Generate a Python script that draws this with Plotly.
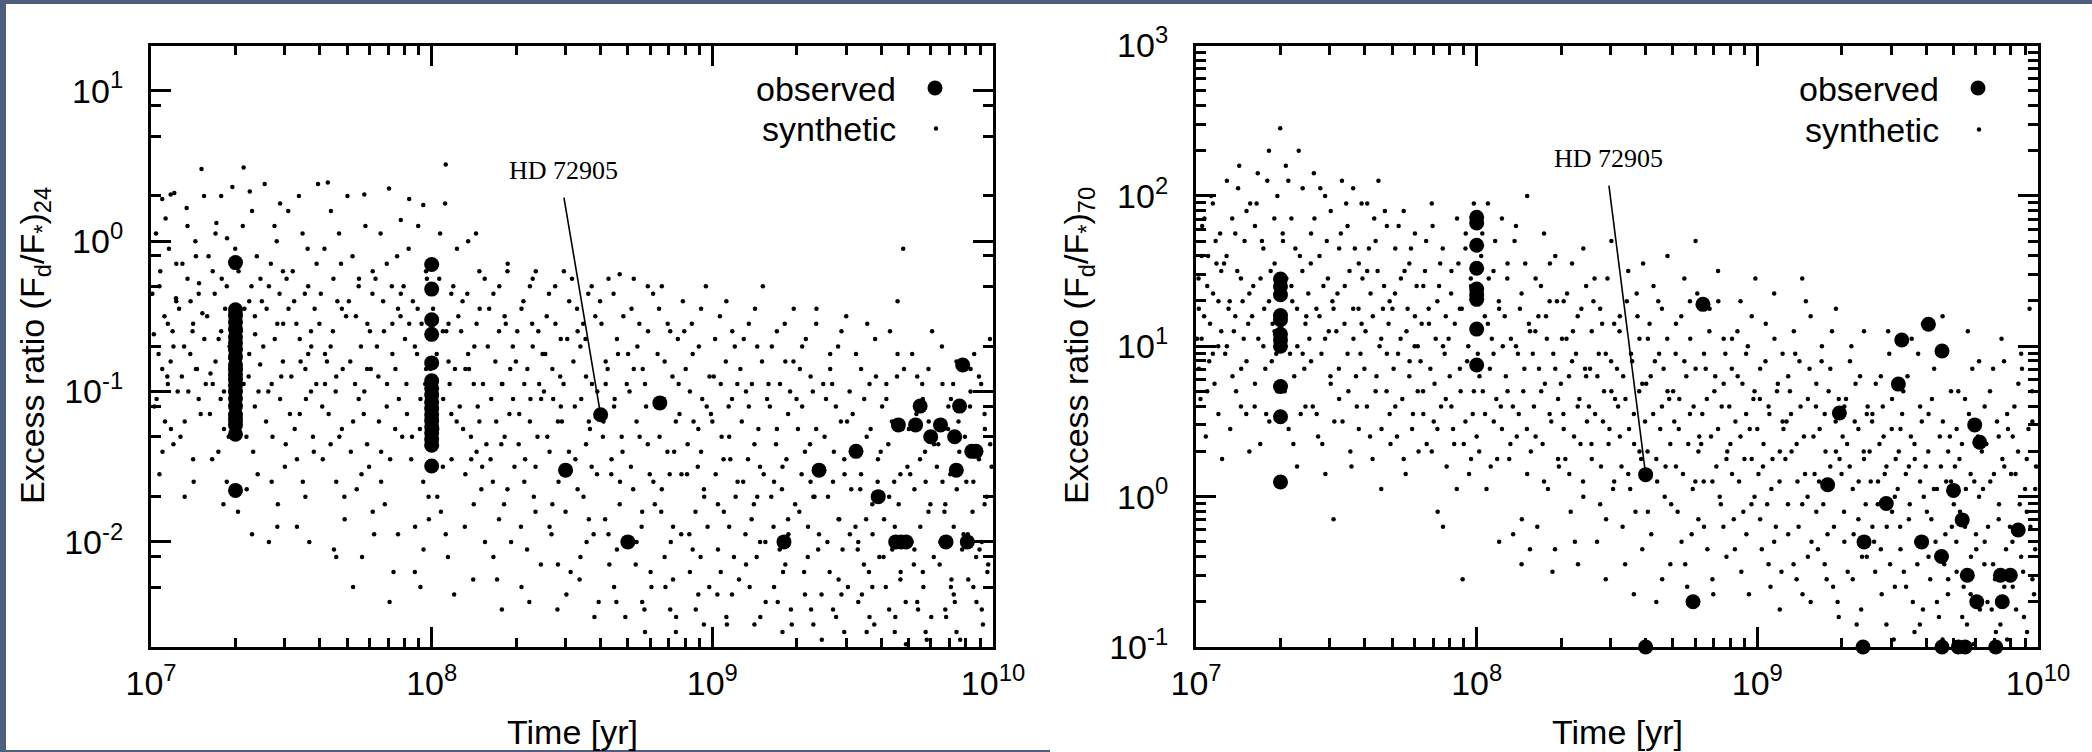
import math
import plotly.graph_objects as go

# ---------------- observed points (24 micron) ----------------
obs24_t = [2e7, 2e7, 2e7, 2e7, 2e7, 2e7, 2e7, 2e7, 2e7, 2e7, 2e7, 2e7, 2e7, 2e7, 2e7, 2e7, 2e7, 2e7, 2e7, 2e7, 2e7, 2e7,
           1e8, 1e8, 1e8, 1e8, 1e8, 1e8, 1e8, 1e8, 1e8, 1e8, 1e8, 1e8, 1e8, 1e8, 1e8, 1e8, 1e8,
           3e8, 4e8, 5e8, 6.5e8, 1.8e9, 2.4e9, 3.25e9, 3.9e9, 4.5e9, 4.7e9, 4.9e9, 4.6e9, 5.3e9, 5.5e9,
           6.0e9, 6.5e9, 6.8e9, 7.3e9, 7.4e9, 7.6e9, 7.8e9, 8.1e9, 8.4e9, 8.7e9]
obs24_r = [0.72, 0.35, 0.32, 0.29, 0.26, 0.23, 0.21, 0.19, 0.17, 0.15, 0.14, 0.13, 0.12, 0.11, 0.10, 0.09, 0.08, 0.07, 0.065, 0.06, 0.052, 0.022,
           0.70, 0.48, 0.30, 0.24, 0.155, 0.118, 0.105, 0.095, 0.085, 0.077, 0.07, 0.064, 0.058, 0.053, 0.048, 0.044, 0.032,
           0.03, 0.07, 0.01, 0.084, 0.01, 0.03, 0.04, 0.02, 0.01, 0.01, 0.01, 0.06, 0.06, 0.08,
           0.05, 0.06, 0.01, 0.05, 0.03, 0.08, 0.15, 0.01, 0.04, 0.04]

# ---------------- observed points (70 micron) ----------------
obs70_t = [2e7, 2e7, 2e7, 2e7, 2e7, 2e7, 2e7, 2e7, 2e7, 2e7, 2e7,
           1e8, 1e8, 1e8, 1e8, 1e8, 1e8, 1e8, 1e8, 1e8,
           4e8, 4e8, 5.9e8, 6.4e8, 1.78e9, 1.96e9, 2.38e9, 2.4e9, 2.88e9, 3.18e9, 3.27e9, 3.85e9, 4.07e9,
           4.53e9, 4.55e9, 4.55e9, 5.0e9, 5.2e9, 5.5e9, 5.37e9, 5.6e9, 5.95e9, 6.2e9, 6.05e9, 7.07e9,
           7.46e9, 7.35e9, 7.97e9, 8.5e9]
obs70_r = [28, 25, 22, 16, 15, 12, 11, 10, 5.4, 3.4, 1.25,
           72, 66, 47, 33, 24, 22, 20.5, 13, 7.5,
           1.4, 0.1, 0.2, 19, 1.2, 3.6, 0.1, 0.5, 0.9, 5.6, 11, 0.5, 14,
           0.4, 9.3, 0.1, 1.1, 0.1, 0.1, 0.7, 0.3, 3.0, 2.3, 0.2, 0.1,
           0.2, 0.3, 0.3, 0.6]

# ---------------- synthetic population (24 micron), log10 values ----------------
syn24_logt = [
    7.01, 7.02, 7.03, 7.04, 7.04, 7.05, 7.06, 7.06, 7.07, 7.08, 7.08, 7.09, 7.09, 7.03, 7.07,
    7.10, 7.11, 7.12, 7.13, 7.13, 7.14, 7.15, 7.15, 7.16, 7.17, 7.17, 7.18, 7.19, 7.12, 7.16,
    7.20, 7.21, 7.22, 7.23, 7.23, 7.24, 7.25, 7.25, 7.26, 7.27, 7.27, 7.28, 7.29, 7.22, 7.26,
    7.30, 7.31, 7.32, 7.33, 7.33, 7.34, 7.35, 7.35, 7.36, 7.37, 7.37, 7.38, 7.39, 7.32, 7.36,
    7.40, 7.41, 7.42, 7.43, 7.43, 7.44, 7.45, 7.45, 7.46, 7.47, 7.47, 7.48, 7.49, 7.42, 7.46,
    7.50, 7.51, 7.52, 7.53, 7.53, 7.54, 7.55, 7.55, 7.56, 7.57, 7.57, 7.58, 7.59, 7.52, 7.56,
    7.60, 7.61, 7.62, 7.63, 7.64, 7.64, 7.65, 7.66, 7.66, 7.67, 7.68, 7.68, 7.69, 7.62, 7.66,
    7.70, 7.71, 7.72, 7.73, 7.74, 7.74, 7.75, 7.76, 7.77, 7.77, 7.78, 7.79, 7.79, 7.72, 7.76,
    7.80, 7.81, 7.82, 7.83, 7.84, 7.84, 7.85, 7.86, 7.87, 7.88, 7.88, 7.89, 7.89, 7.82, 7.86,
    7.90, 7.91, 7.92, 7.93, 7.94, 7.94, 7.95, 7.96, 7.97, 7.97, 7.98, 7.98, 7.99, 7.92, 7.96,
    8.00, 8.01, 8.02, 8.03, 8.04, 8.04, 8.05, 8.05, 8.06, 8.07, 8.07, 8.08, 8.09, 8.02, 8.06,
    8.10, 8.11, 8.12, 8.13, 8.13, 8.14, 8.15, 8.15, 8.16, 8.17, 8.17, 8.18, 8.19, 8.12, 8.16,
    8.20, 8.21, 8.22, 8.23, 8.24, 8.24, 8.25, 8.25, 8.26, 8.27, 8.27, 8.28, 8.29, 8.22, 8.26,
    8.30, 8.31, 8.32, 8.33, 8.33, 8.34, 8.35, 8.35, 8.36, 8.37, 8.37, 8.38, 8.39, 8.32, 8.36,
    8.40, 8.41, 8.42, 8.43, 8.43, 8.44, 8.45, 8.45, 8.46, 8.47, 8.47, 8.48, 8.49, 8.42, 8.46,
    8.50, 8.51, 8.52, 8.53, 8.53, 8.54, 8.55, 8.55, 8.56, 8.57, 8.57, 8.58, 8.59, 8.52, 8.56,
    8.60, 8.61, 8.62, 8.63, 8.63, 8.64, 8.65, 8.65, 8.66, 8.67, 8.67, 8.68, 8.69, 8.62, 8.66,
    8.70, 8.71, 8.72, 8.73, 8.73, 8.74, 8.75, 8.75, 8.76, 8.77, 8.77, 8.78, 8.79, 8.72, 8.76,
    8.80, 8.81, 8.82, 8.83, 8.83, 8.84, 8.85, 8.85, 8.86, 8.87, 8.87, 8.88, 8.89, 8.82, 8.86,
    8.90, 8.91, 8.92, 8.93, 8.93, 8.94, 8.95, 8.95, 8.96, 8.97, 8.97, 8.98, 8.99, 8.92, 8.96,
    9.00, 9.01, 9.02, 9.03, 9.03, 9.04, 9.05, 9.05, 9.06, 9.07, 9.07, 9.08, 9.09, 9.02, 9.06,
    9.10, 9.11, 9.12, 9.13, 9.13, 9.14, 9.15, 9.15, 9.16, 9.17, 9.17, 9.18, 9.19, 9.12, 9.16,
    9.20, 9.21, 9.22, 9.23, 9.23, 9.24, 9.25, 9.25, 9.26, 9.27, 9.27, 9.28, 9.29, 9.22, 9.26,
    9.30, 9.31, 9.32, 9.33, 9.33, 9.34, 9.35, 9.35, 9.36, 9.37, 9.37, 9.38, 9.39, 9.32, 9.36,
    9.40, 9.41, 9.42, 9.43, 9.43, 9.44, 9.45, 9.45, 9.46, 9.47, 9.47, 9.48, 9.49, 9.42, 9.46,
    9.50, 9.51, 9.52, 9.53, 9.53, 9.54, 9.55, 9.55, 9.56, 9.57, 9.57, 9.58, 9.59, 9.52, 9.56,
    9.60, 9.61, 9.62, 9.63, 9.63, 9.64, 9.65, 9.65, 9.66, 9.67, 9.67, 9.68, 9.69, 9.62, 9.66,
    9.70, 9.71, 9.72, 9.73, 9.73, 9.74, 9.75, 9.75, 9.76, 9.77, 9.77, 9.78, 9.79, 9.72, 9.76,
    9.80, 9.81, 9.82, 9.83, 9.83, 9.84, 9.85, 9.85, 9.86, 9.87, 9.87, 9.88, 9.89, 9.82, 9.86,
    9.90, 9.91, 9.92, 9.93, 9.93, 9.94, 9.95, 9.95, 9.96, 9.97, 9.97, 9.98, 9.99, 9.92, 9.96,
    # second pass over the cloud
    7.005, 7.012, 7.018, 7.027, 7.033, 7.041, 7.048, 7.052, 7.058, 7.064, 7.071, 7.077, 7.083, 7.089, 7.095,
    7.105, 7.112, 7.118, 7.127, 7.133, 7.141, 7.148, 7.152, 7.158, 7.164, 7.171, 7.177, 7.183, 7.189, 7.195,
    7.205, 7.212, 7.218, 7.227, 7.233, 7.241, 7.248, 7.252, 7.258, 7.264, 7.271, 7.277, 7.283, 7.289, 7.295,
    7.305, 7.312, 7.318, 7.327, 7.333, 7.341, 7.348, 7.352, 7.358, 7.364, 7.371, 7.377, 7.383, 7.389, 7.395,
    7.405, 7.412, 7.418, 7.427, 7.433, 7.441, 7.448, 7.452, 7.458, 7.464, 7.471, 7.477, 7.483, 7.489, 7.495,
    7.505, 7.512, 7.518, 7.527, 7.533, 7.541, 7.548, 7.552, 7.558, 7.564, 7.571, 7.577, 7.583, 7.589, 7.595,
    7.605, 7.612, 7.618, 7.627, 7.633, 7.641, 7.648, 7.652, 7.658, 7.664, 7.671, 7.677, 7.683, 7.689, 7.695,
    7.705, 7.712, 7.718, 7.727, 7.733, 7.741, 7.748, 7.752, 7.758, 7.764, 7.771, 7.777, 7.783, 7.789, 7.795,
    7.805, 7.812, 7.818, 7.827, 7.833, 7.841, 7.848, 7.852, 7.858, 7.864, 7.871, 7.877, 7.883, 7.889, 7.895,
    7.905, 7.912, 7.918, 7.927, 7.933, 7.941, 7.948, 7.952, 7.958, 7.964, 7.971, 7.977, 7.983, 7.989, 7.995,
    8.005, 8.012, 8.018, 8.027, 8.033, 8.041, 8.048, 8.052, 8.058, 8.064, 8.071, 8.077, 8.083, 8.089, 8.095,
    8.105, 8.112, 8.118, 8.127, 8.133, 8.141, 8.148, 8.152, 8.158, 8.164, 8.171, 8.177, 8.183, 8.189, 8.195,
    8.205, 8.212, 8.218, 8.227, 8.233, 8.241, 8.248, 8.252, 8.258, 8.264, 8.271, 8.277, 8.283, 8.289, 8.295,
    8.305, 8.312, 8.318, 8.327, 8.333, 8.341, 8.348, 8.352, 8.358, 8.364, 8.371, 8.377, 8.383, 8.389, 8.395,
    8.405, 8.412, 8.418, 8.427, 8.433, 8.441, 8.448, 8.452, 8.458, 8.464, 8.471, 8.477, 8.483, 8.489, 8.495,
    8.505, 8.512, 8.518, 8.527, 8.533, 8.541, 8.548, 8.552, 8.558, 8.564, 8.571, 8.577, 8.583, 8.589, 8.595,
    8.605, 8.612, 8.618, 8.627, 8.633, 8.641, 8.648, 8.652, 8.658, 8.664, 8.671, 8.677, 8.683, 8.689, 8.695,
    8.705, 8.712, 8.718, 8.727, 8.733, 8.741, 8.748, 8.752, 8.758, 8.764, 8.771, 8.777, 8.783, 8.789, 8.795,
    8.805, 8.812, 8.818, 8.827, 8.833, 8.841, 8.848, 8.852, 8.858, 8.864, 8.871, 8.877, 8.883, 8.889, 8.895,
    8.905, 8.912, 8.918, 8.927, 8.933, 8.941, 8.948, 8.952, 8.958, 8.964, 8.971, 8.977, 8.983, 8.989, 8.995,
    9.005, 9.012, 9.018, 9.027, 9.033, 9.041, 9.048, 9.052, 9.058, 9.064, 9.071, 9.077, 9.083, 9.089, 9.095,
    9.105, 9.112, 9.118, 9.127, 9.133, 9.141, 9.148, 9.152, 9.158, 9.164, 9.171, 9.177, 9.183, 9.189, 9.195,
    9.205, 9.212, 9.218, 9.227, 9.233, 9.241, 9.248, 9.252, 9.258, 9.264, 9.271, 9.277, 9.283, 9.289, 9.295,
    9.305, 9.312, 9.318, 9.327, 9.333, 9.341, 9.348, 9.352, 9.358, 9.364, 9.371, 9.377, 9.383, 9.389, 9.395,
    9.405, 9.412, 9.418, 9.427, 9.433, 9.441, 9.448, 9.452, 9.458, 9.464, 9.471, 9.477, 9.483, 9.489, 9.495,
    9.505, 9.512, 9.518, 9.527, 9.533, 9.541, 9.548, 9.552, 9.558, 9.564, 9.571, 9.577, 9.583, 9.589, 9.595,
    9.605, 9.612, 9.618, 9.627, 9.633, 9.641, 9.648, 9.652, 9.658, 9.664, 9.671, 9.677, 9.683, 9.689, 9.695,
    9.705, 9.712, 9.718, 9.727, 9.733, 9.741, 9.748, 9.752, 9.758, 9.764, 9.771, 9.777, 9.783, 9.789, 9.795,
    9.805, 9.812, 9.818, 9.827, 9.833, 9.841, 9.848, 9.852, 9.858, 9.864, 9.871, 9.877, 9.883, 9.889, 9.895,
    9.905, 9.912, 9.918, 9.927, 9.933, 9.941, 9.948, 9.952, 9.958, 9.964, 9.971, 9.977, 9.983, 9.989, 9.995,
]
syn24_logr = [
    -0.62, -1.05, -0.30, -0.85, 0.28, -1.20, -0.55, -0.95, 0.31, -0.70, -1.35, -0.40, -0.15, -1.55, -0.80,
    -0.45, -0.90, -1.20, -0.25, 0.10, -0.75, -1.45, -0.55, -0.10, -1.05, -0.35, 0.48, -0.65, -1.70, -0.85,
    -0.50, -1.15, -0.20, 0.05, -0.80, -1.40, -0.60, 0.30, -1.00, -0.30, -1.60, -0.70, 0.36, -0.95, -1.25,
    -0.05, -1.80, -0.60, 0.49, -0.95, -1.30, -0.40, -0.75, 0.20, -1.10, -0.50, -1.55, -0.25, -0.85, -1.95,
    -0.70, -1.20, -0.30, -1.60, -0.95, 0.10, -0.55, -1.90, -1.05, -0.20, -0.80, -1.35, -0.45, -2.00, 0.25,
    -0.90, -0.40, -1.45, -0.65, -1.15, 0.05, -0.85, -1.70, -0.30, -1.00, -0.60, -1.40, -0.15, -1.90, -0.75,
    -0.55, -1.10, -0.95, 0.39, -1.35, -0.70, -0.25, -1.60, -0.90, 0.05, -0.45, -1.25, -1.85, -0.75, -2.10,
    0.30, -0.80, -1.20, -0.50, -1.05, -0.30, -1.55, 0.31, -0.85, -1.35, -0.60, -1.80, -0.20, -2.30, -1.00,
    -0.25, -0.90, -1.40, -0.60, -0.15, -1.10, -2.40, -0.75, -1.25, -0.45, -1.95, 0.14, -0.35, -1.60, -0.55,
    -0.30, -0.95, 0.28, -1.30, -0.70, -2.20, -0.45, -1.05, -1.60, 0.24, -0.20, -0.85, -1.85, -0.55, -2.30,
    -0.15, -0.90, -1.25, 0.05, -0.60, -1.50, 0.51, -1.95, -0.80, -1.15, -0.35, -2.35, -0.05, -1.70, -0.55,
    -1.10, -0.40, -1.55, -0.75, 0.00, -1.30, -0.95, -1.75, -0.55, -1.20, -0.20, -1.50, -2.00, -0.85, -1.40,
    -0.70, -1.45, -0.35, -1.20, -1.85, -0.60, -0.95, -2.45, -1.30, -0.20, -1.65, -0.85, -1.05, -2.10, -0.50,
    -0.80, -1.35, -0.45, -1.60, -0.95, -2.05, -0.30, -1.20, -0.70, -1.50, -1.80, -0.60, -1.05, -2.30, -0.25,
    -1.00, -0.50, -1.40, -0.85, -1.75, -0.30, -1.20, -2.15, -0.65, -1.55, -0.95, -2.35, -0.40, -1.90, -1.10,
    -0.25, -1.10, -1.65, -0.70, -2.10, -0.55, -1.35, -0.90, -1.85, -0.30, -1.50, -2.50, -1.00, -0.60, -1.20,
    -0.40, -1.30, -0.80, -1.95, -0.25, -1.55, -1.10, -2.30, -0.65, -1.75, -0.22, -1.40, -2.50, -0.95, -2.05,
    -0.75, -1.50, -0.25, -2.00, -1.20, -0.55, -1.80, -2.40, -0.95, -1.35, -0.30, -2.20, -1.60, -0.85, -2.60,
    -1.10, -0.45, -1.65, -2.10, -0.80, -1.40, -2.45, -0.60, -1.90, -1.20, -2.60, -0.95, -1.55, -0.30, -2.25,
    -0.60, -1.55, -1.00, -2.05, -0.75, -1.80, -1.25, -2.35, -0.45, -1.65, -2.55, -1.10, -0.90, -2.20, -1.40,
    -1.20, -0.65, -1.75, -2.20, -0.95, -1.45, -2.50, -0.40, -1.90, -1.05, -2.35, -0.70, -1.60, -2.05, -1.30,
    -0.85, -1.60, -2.15, -1.10, -0.55, -1.85, -2.55, -1.35, -0.70, -2.00, -1.50, -0.30, -2.40, -1.00, -1.70,
    -0.95, -1.70, -2.30, -1.25, -0.60, -2.05, -1.50, -2.60, -0.80, -1.85, -1.15, -2.45, -0.45, -1.60, -2.15,
    -1.05, -1.80, -0.70, -2.35, -1.40, -2.10, -0.90, -1.60, -2.55, -1.25, -0.55, -1.95, -2.65, -1.10, -1.70,
    -1.30, -2.00, -0.85, -1.60, -2.45, -1.10, -1.85, -2.25, -0.60, -1.45, -2.60, -1.20, -1.95, -0.75, -2.35,
    -1.15, -1.90, -2.40, -0.85, -1.55, -2.15, -1.30, -2.60, -0.95, -1.75, -2.30, -0.65, -1.45, -2.00, -2.50,
    -1.40, -2.10, -0.95, -1.70, -2.45, -1.20, -2.60, -1.90, -0.75, -2.25, -1.55, -0.05, -2.68, -1.05, -0.40,
    -1.25, -2.00, -1.65, -2.40, -0.90, -1.45, -2.20, -1.05, -2.60, -1.80, -0.85, -2.50, -1.35, -2.05, -1.60,
    -1.50, -2.15, -0.95, -1.75, -2.45, -1.25, -2.30, -1.05, -1.90, -2.60, -0.80, -1.40, -2.05, -1.60, -2.35,
    -1.30, -1.95, -1.00, -2.30, -1.60, -2.10, -0.90, -1.45, -2.45, -1.15, -1.75, -2.20, -1.35, -0.85, -2.00,
    # second pass over the cloud
    -0.35, -1.10, 0.05, -0.75, -0.20, -1.40, -0.50, 0.15, -0.90, -0.05, -1.25, -0.60, 0.32, -0.38, -1.00,
    -1.30, -0.15, -0.70, 0.22, -1.00, -0.40, -0.60, -1.60, 0.00, -0.85, -0.28, -1.15, -0.48, 0.30, -0.95,
    -0.10, -0.88, -1.45, -0.35, 0.12, -0.65, -1.05, -0.25, -1.75, -0.45, 0.02, -1.30, -0.78, -0.55, -0.15,
    -0.70, -0.20, -1.20, 0.10, -0.45, -1.65, -0.90, 0.33, -0.30, -1.40, -0.62, -0.10, -1.00, -0.82, -0.40,
    0.38, -0.45, -1.00, -0.15, -1.30, -0.65, 0.00, -1.75, -0.35, -0.90, -0.55, -1.50, -0.25, 0.20, -1.15,
    -0.20, -1.25, -0.55, 0.30, -0.80, -1.60, -0.35, -1.05, -0.05, -2.00, -0.70, -1.30, -0.45, -0.95, 0.38,
    -0.35, -1.45, -0.05, -0.80, -1.15, 0.20, -0.60, -2.05, -1.00, -0.40, -1.30, -0.15, -0.85, -1.70, -0.50,
    -0.40, -1.40, -0.10, -0.95, -1.65, -0.25, -0.70, -2.10, -1.15, 0.10, -0.55, -1.50, -0.85, -0.35, -1.95,
    -0.70, -1.20, 0.05, -0.40, -1.75, -0.95, 0.35, -1.45, -0.30, -2.20, -0.85, -0.10, -1.05, -0.50, -1.30,
    -0.65, -1.15, -0.05, -1.45, -0.40, -1.90, -0.75, 0.10, -1.25, -0.55, -2.05, -0.95, -0.25, -1.70, -0.85,
    -0.45, -1.35, -0.75, -0.25, -1.80, -1.05, 0.25, -0.60, -2.10, -0.95, -1.45, -0.30, -0.85, -1.20, -0.50,
    -0.60, -1.25, -1.90, -0.35, -0.85, -1.45, -2.25, -0.70, 0.05, -1.10, -0.45, -1.65, -0.95, -0.25, -1.35,
    -0.45, -1.05, -1.60, -0.80, -2.25, -0.30, -1.35, -0.95, -1.75, -0.55, -0.15, -1.15, -2.00, -0.70, -1.50,
    -0.60, -1.15, -1.90, -0.40, -1.45, -0.85, -2.40, -1.05, -0.55, -1.70, -0.20, -1.30, -0.95, -2.15, -0.75,
    -0.75, -1.30, -0.35, -1.95, -1.05, -0.55, -2.45, -1.60, -0.90, -1.20, -0.20, -1.80, -0.65, -1.40, -2.20,
    -0.80, -1.45, -0.45, -2.25, -1.05, -1.70, -0.65, -2.00, -0.35, -1.25, -0.95, -1.95, -0.50, -1.55, -2.40,
    -0.55, -1.20, -1.85, -0.85, -2.15, -1.45, -0.35, -1.05, -2.40, -0.75, -1.60, -1.30, -0.50, -2.00, -0.95,
    -1.00, -0.45, -1.65, -2.15, -0.70, -1.30, -1.90, -0.85, -2.45, -1.10, -0.60, -1.55, -2.30, -0.35, -1.75,
    -0.75, -1.30, -1.80, -1.05, -2.30, -0.55, -1.55, -2.00, -0.90, -1.40, -2.50, -0.65, -1.15, -1.95, -0.40,
    -0.85, -1.35, -1.95, -0.55, -1.20, -2.45, -1.50, -0.70, -2.10, -1.05, -1.70, -0.30, -1.90, -2.30, -1.15,
    -0.90, -1.55, -2.35, -0.50, -1.30, -1.80, -0.80, -2.55, -1.10, -1.45, -0.60, -2.10, -1.70, -0.95, -2.25,
    -1.20, -0.65, -1.95, -1.45, -2.30, -0.95, -1.75, -0.45, -2.10, -1.25, -2.50, -0.80, -1.55, -2.00, -1.05,
    -1.10, -0.70, -1.90, -1.35, -2.40, -0.95, -1.65, -2.20, -0.55, -1.45, -1.95, -1.00, -2.55, -0.80, -1.75,
    -1.25, -0.85, -1.55, -2.20, -0.65, -1.90, -1.35, -2.45, -1.00, -1.70, -0.45, -2.05, -1.50, -2.35, -0.95,
    -1.05, -1.70, -2.20, -0.95, -1.40, -2.50, -0.70, -1.85, -1.20, -2.05, -1.55, -0.50, -2.30, -1.00, -1.65,
    -1.40, -0.75, -2.05, -1.65, -2.35, -1.05, -1.85, -0.55, -2.20, -1.25, -1.95, -2.55, -0.90, -1.60, -2.10,
    -1.10, -1.85, -2.30, -1.35, -0.60, -2.05, -1.60, -2.50, -0.90, -1.75, -2.20, -1.25, -0.85, -2.40, -1.50,
    -1.55, -0.75, -2.15, -1.15, -2.45, -1.90, -0.95, -2.30, -1.40, -2.65, -1.20, -1.75, -0.60, -2.10, -1.30,
    -1.35, -2.00, -0.70, -1.80, -2.50, -1.10, -1.55, -2.25, -0.95, -2.40, -1.65, -1.20, -2.65, -0.85, -1.95,
    -1.60, -2.25, -1.10, -1.80, -0.75, -2.40, -1.40, -2.05, -0.95, -2.55, -1.25, -1.70, -2.15, -0.65, -1.50,
]

# ---------------- synthetic population (70 micron), log10 values ----------------
syn70_logt = [
    7.01, 7.01, 7.02, 7.02, 7.03, 7.04, 7.04, 7.05, 7.06, 7.06, 7.07, 7.08, 7.08, 7.09, 7.09,
    7.10, 7.11, 7.11, 7.12, 7.13, 7.14, 7.14, 7.15, 7.16, 7.16, 7.17, 7.18, 7.18, 7.19, 7.19,
    7.20, 7.21, 7.21, 7.22, 7.23, 7.24, 7.24, 7.25, 7.26, 7.26, 7.27, 7.28, 7.28, 7.29, 7.29,
    7.30, 7.31, 7.31, 7.32, 7.33, 7.34, 7.34, 7.35, 7.36, 7.36, 7.37, 7.38, 7.38, 7.39, 7.39,
    7.40, 7.41, 7.41, 7.42, 7.43, 7.44, 7.44, 7.45, 7.46, 7.46, 7.47, 7.48, 7.48, 7.49, 7.49,
    7.50, 7.51, 7.51, 7.52, 7.53, 7.54, 7.54, 7.55, 7.56, 7.56, 7.57, 7.58, 7.58, 7.59, 7.59,
    7.60, 7.61, 7.61, 7.62, 7.63, 7.64, 7.64, 7.65, 7.66, 7.66, 7.67, 7.68, 7.68, 7.69, 7.69,
    7.70, 7.71, 7.71, 7.72, 7.73, 7.74, 7.74, 7.75, 7.76, 7.76, 7.77, 7.78, 7.78, 7.79, 7.79,
    7.80, 7.81, 7.81, 7.82, 7.83, 7.84, 7.84, 7.85, 7.86, 7.86, 7.87, 7.88, 7.88, 7.89, 7.89,
    7.90, 7.91, 7.91, 7.92, 7.93, 7.94, 7.94, 7.95, 7.96, 7.96, 7.97, 7.98, 7.98, 7.99, 7.99,
    8.00, 8.01, 8.01, 8.02, 8.03, 8.04, 8.04, 8.05, 8.06, 8.06, 8.07, 8.08, 8.08, 8.09, 8.09,
    8.10, 8.11, 8.11, 8.12, 8.13, 8.14, 8.14, 8.15, 8.16, 8.16, 8.17, 8.18, 8.18, 8.19, 8.19,
    8.20, 8.21, 8.21, 8.22, 8.23, 8.24, 8.24, 8.25, 8.26, 8.26, 8.27, 8.28, 8.28, 8.29, 8.29,
    8.30, 8.31, 8.31, 8.32, 8.33, 8.34, 8.34, 8.35, 8.36, 8.36, 8.37, 8.38, 8.38, 8.39, 8.39,
    8.40, 8.41, 8.41, 8.42, 8.43, 8.44, 8.44, 8.45, 8.46, 8.46, 8.47, 8.48, 8.48, 8.49, 8.49,
    8.50, 8.51, 8.51, 8.52, 8.53, 8.54, 8.54, 8.55, 8.56, 8.56, 8.57, 8.58, 8.58, 8.59, 8.59,
    8.60, 8.61, 8.61, 8.62, 8.63, 8.64, 8.64, 8.65, 8.66, 8.66, 8.67, 8.68, 8.68, 8.69, 8.69,
    8.70, 8.71, 8.71, 8.72, 8.73, 8.74, 8.74, 8.75, 8.76, 8.76, 8.77, 8.78, 8.78, 8.79, 8.79,
    8.80, 8.81, 8.81, 8.82, 8.83, 8.84, 8.84, 8.85, 8.86, 8.86, 8.87, 8.88, 8.88, 8.89, 8.89,
    8.90, 8.91, 8.91, 8.92, 8.93, 8.94, 8.94, 8.95, 8.96, 8.96, 8.97, 8.98, 8.98, 8.99, 8.99,
    9.00, 9.01, 9.01, 9.02, 9.03, 9.04, 9.04, 9.05, 9.06, 9.06, 9.07, 9.08, 9.08, 9.09, 9.09,
    9.10, 9.11, 9.11, 9.12, 9.13, 9.14, 9.14, 9.15, 9.16, 9.16, 9.17, 9.18, 9.18, 9.19, 9.19,
    9.20, 9.21, 9.21, 9.22, 9.23, 9.24, 9.24, 9.25, 9.26, 9.26, 9.27, 9.28, 9.28, 9.29, 9.29,
    9.30, 9.31, 9.31, 9.32, 9.33, 9.34, 9.34, 9.35, 9.36, 9.36, 9.37, 9.38, 9.38, 9.39, 9.39,
    9.40, 9.41, 9.41, 9.42, 9.43, 9.44, 9.44, 9.45, 9.46, 9.46, 9.47, 9.48, 9.48, 9.49, 9.49,
    9.50, 9.51, 9.51, 9.52, 9.53, 9.54, 9.54, 9.55, 9.56, 9.56, 9.57, 9.58, 9.58, 9.59, 9.59,
    9.60, 9.61, 9.61, 9.62, 9.63, 9.64, 9.64, 9.65, 9.66, 9.66, 9.67, 9.68, 9.68, 9.69, 9.69,
    9.70, 9.71, 9.71, 9.72, 9.73, 9.74, 9.74, 9.75, 9.76, 9.76, 9.77, 9.78, 9.78, 9.79, 9.79,
    9.80, 9.81, 9.81, 9.82, 9.83, 9.84, 9.84, 9.85, 9.86, 9.86, 9.87, 9.88, 9.88, 9.89, 9.89,
    9.90, 9.91, 9.91, 9.92, 9.93, 9.94, 9.94, 9.95, 9.96, 9.96, 9.97, 9.98, 9.98, 9.99, 9.99,
    # second pass over the cloud
    7.004, 7.009, 7.016, 7.022, 7.029, 7.035, 7.043, 7.047, 7.054, 7.061, 7.066, 7.073, 7.079, 7.086, 7.093,
    7.104, 7.109, 7.116, 7.122, 7.129, 7.135, 7.143, 7.147, 7.154, 7.161, 7.166, 7.173, 7.179, 7.186, 7.193,
    7.204, 7.209, 7.216, 7.222, 7.229, 7.235, 7.243, 7.247, 7.254, 7.261, 7.266, 7.273, 7.279, 7.286, 7.293,
    7.304, 7.309, 7.316, 7.322, 7.329, 7.335, 7.343, 7.347, 7.354, 7.361, 7.366, 7.373, 7.379, 7.386, 7.393,
    7.404, 7.409, 7.416, 7.422, 7.429, 7.435, 7.443, 7.447, 7.454, 7.461, 7.466, 7.473, 7.479, 7.486, 7.493,
    7.504, 7.509, 7.516, 7.522, 7.529, 7.535, 7.543, 7.547, 7.554, 7.561, 7.566, 7.573, 7.579, 7.586, 7.593,
    7.604, 7.609, 7.616, 7.622, 7.629, 7.635, 7.643, 7.647, 7.654, 7.661, 7.666, 7.673, 7.679, 7.686, 7.693,
    7.704, 7.709, 7.716, 7.722, 7.729, 7.735, 7.743, 7.747, 7.754, 7.761, 7.766, 7.773, 7.779, 7.786, 7.793,
    7.804, 7.809, 7.816, 7.822, 7.829, 7.835, 7.843, 7.847, 7.854, 7.861, 7.866, 7.873, 7.879, 7.886, 7.893,
    7.904, 7.909, 7.916, 7.922, 7.929, 7.935, 7.943, 7.947, 7.954, 7.961, 7.966, 7.973, 7.979, 7.986, 7.993,
    8.004, 8.009, 8.016, 8.022, 8.029, 8.035, 8.043, 8.047, 8.054, 8.061, 8.066, 8.073, 8.079, 8.086, 8.093,
    8.104, 8.109, 8.116, 8.122, 8.129, 8.135, 8.143, 8.147, 8.154, 8.161, 8.166, 8.173, 8.179, 8.186, 8.193,
    8.204, 8.209, 8.216, 8.222, 8.229, 8.235, 8.243, 8.247, 8.254, 8.261, 8.266, 8.273, 8.279, 8.286, 8.293,
    8.304, 8.309, 8.316, 8.322, 8.329, 8.335, 8.343, 8.347, 8.354, 8.361, 8.366, 8.373, 8.379, 8.386, 8.393,
    8.404, 8.409, 8.416, 8.422, 8.429, 8.435, 8.443, 8.447, 8.454, 8.461, 8.466, 8.473, 8.479, 8.486, 8.493,
    8.504, 8.509, 8.516, 8.522, 8.529, 8.535, 8.543, 8.547, 8.554, 8.561, 8.566, 8.573, 8.579, 8.586, 8.593,
    8.604, 8.609, 8.616, 8.622, 8.629, 8.635, 8.643, 8.647, 8.654, 8.661, 8.666, 8.673, 8.679, 8.686, 8.693,
    8.704, 8.709, 8.716, 8.722, 8.729, 8.735, 8.743, 8.747, 8.754, 8.761, 8.766, 8.773, 8.779, 8.786, 8.793,
    8.804, 8.809, 8.816, 8.822, 8.829, 8.835, 8.843, 8.847, 8.854, 8.861, 8.866, 8.873, 8.879, 8.886, 8.893,
    8.904, 8.909, 8.916, 8.922, 8.929, 8.935, 8.943, 8.947, 8.954, 8.961, 8.966, 8.973, 8.979, 8.986, 8.993,
    9.004, 9.009, 9.016, 9.022, 9.029, 9.035, 9.043, 9.047, 9.054, 9.061, 9.066, 9.073, 9.079, 9.086, 9.093,
    9.104, 9.109, 9.116, 9.122, 9.129, 9.135, 9.143, 9.147, 9.154, 9.161, 9.166, 9.173, 9.179, 9.186, 9.193,
    9.204, 9.209, 9.216, 9.222, 9.229, 9.235, 9.243, 9.247, 9.254, 9.261, 9.266, 9.273, 9.279, 9.286, 9.293,
    9.304, 9.309, 9.316, 9.322, 9.329, 9.335, 9.343, 9.347, 9.354, 9.361, 9.366, 9.373, 9.379, 9.386, 9.393,
    9.404, 9.409, 9.416, 9.422, 9.429, 9.435, 9.443, 9.447, 9.454, 9.461, 9.466, 9.473, 9.479, 9.486, 9.493,
    9.504, 9.509, 9.516, 9.522, 9.529, 9.535, 9.543, 9.547, 9.554, 9.561, 9.566, 9.573, 9.579, 9.586, 9.593,
    9.604, 9.609, 9.616, 9.622, 9.629, 9.635, 9.643, 9.647, 9.654, 9.661, 9.666, 9.673, 9.679, 9.686, 9.693,
    9.704, 9.709, 9.716, 9.722, 9.729, 9.735, 9.743, 9.747, 9.754, 9.761, 9.766, 9.773, 9.779, 9.786, 9.793,
    9.804, 9.809, 9.816, 9.822, 9.829, 9.835, 9.843, 9.847, 9.854, 9.861, 9.866, 9.873, 9.879, 9.886, 9.893,
    9.904, 9.909, 9.916, 9.922, 9.929, 9.935, 9.943, 9.947, 9.954, 9.961, 9.966, 9.973, 9.979, 9.986, 9.993,
]
syn70_logr = [
    1.25, 0.85, 1.60, 1.05, 1.85, 0.70, 1.40, 1.15, 1.95, 0.95, 1.70, 1.30, 0.55, 1.50, 1.10,
    1.55, 1.00, 2.10, 1.30, 0.80, 1.75, 1.20, 2.05, 0.60, 1.45, 1.05, 1.90, 0.90, 1.35, 0.30,
    1.20, 1.80, 0.75, 2.15, 1.45, 1.00, 1.65, 0.55, 2.30, 1.30, 0.90, 1.55, 1.10, 2.00, 0.70,
    2.45, 1.70, 1.05, 2.20, 0.45, 1.40, 1.85, 0.80, 1.25, 0.20, 1.60, 2.05, 0.95, 1.15, 0.60,
    1.35, 0.90, 1.75, 2.15, 0.55, 1.20, 1.60, 0.35, 2.00, 1.05, 1.45, 0.75, 1.90, -0.15, 1.25,
    1.10, 1.65, 0.65, 2.10, 1.40, 0.95, 1.80, 0.30, 1.25, 2.05, 0.80, 1.55, 0.45, 1.15, 1.95,
    0.85, 1.50, 1.95, 0.40, 1.20, 1.70, 0.70, 2.10, 1.05, 0.05, 1.40, 0.95, 1.80, 0.55, 1.30,
    1.25, 0.60, 1.65, 0.95, 1.45, 0.25, 1.90, 1.10, 0.80, 1.55, 0.45, 1.20, 1.75, 0.70, 1.00,
    0.90, 1.40, 0.55, 1.70, 1.15, 0.30, 1.95, 0.75, 1.30, 0.45, 1.55, 1.00, -0.20, 0.65, 1.20,
    1.05, 0.60, 1.50, 0.35, 1.85, 0.85, 1.25, -0.55, 0.50, 1.65, 1.00, 0.25, 1.40, 0.70, 1.95,
    0.40, 1.35, 0.80, 1.75, 0.55, 1.15, 1.95, 0.20, 1.50, 0.95, 0.65, 1.25, -0.30, 1.85, 0.45,
    1.20, 0.70, 1.55, 0.35, -0.25, 1.00, 1.80, 0.55, -0.45, 1.35, 0.85, 2.00, 0.15, 1.10, -0.35,
    0.95, 1.45, 0.40, 1.20, 0.70, 1.75, 0.10, 1.05, 0.55, 1.30, -0.50, 0.85, 1.60, 0.25, 0.65,
    0.75, 1.30, 0.45, 1.05, 0.15, 1.55, 0.90, -0.30, 0.60, 1.20, 0.35, 1.65, 0.00, 0.80, 1.40,
    0.60, 1.10, 0.25, 1.45, 0.80, -0.05, 1.25, 0.50, 0.95, -0.55, 0.35, 1.70, 0.70, 0.10, 1.15,
    0.85, 0.40, 1.20, -0.20, 0.65, 1.50, 0.15, 0.95, -0.65, 0.55, 1.35, 0.30, 1.05, -0.35, 0.75,
    0.50, 1.05, -0.10, 0.80, 1.40, 0.25, -0.70, 0.95, 0.60, 1.25, 0.00, 0.70, 1.60, 0.35, -0.45,
    0.70, 0.20, 1.15, 0.45, -0.30, 0.90, 1.45, -0.60, 0.55, 1.30, 0.05, 0.85, 1.70, 0.30, -0.15,
    0.35, 0.95, -0.20, 0.65, 1.25, 0.10, -0.55, 0.80, 0.45, 1.50, -0.05, 0.75, 1.05, 0.25, -0.40,
    0.60, 0.15, 1.05, -0.35, 0.80, 0.40, 1.30, -0.10, 0.55, 0.95, -0.65, 0.25, 1.20, 0.70, 0.00,
    0.45, -0.15, 0.85, 0.20, 1.15, -0.45, 0.60, 0.05, 1.35, -0.30, 0.70, 0.30, -0.75, 0.95, 0.50,
    0.25, 0.80, -0.25, 0.55, 1.10, -0.55, 0.35, 0.90, -0.05, 1.45, 0.15, -0.40, 0.65, 1.20, -0.70,
    0.40, -0.10, 0.75, 0.10, 1.00, -0.45, 0.55, -0.25, 0.85, 0.20, -0.60, 1.25, 0.30, -0.80, 0.65,
    0.15, 0.60, -0.30, 0.35, 0.90, -0.55, 0.05, 0.75, -0.15, 0.45, -0.75, 1.10, 0.25, -0.40, 0.55,
    0.30, -0.20, 0.55, -0.50, 0.10, 0.80, -0.35, 0.40, -0.85, 0.20, 0.95, -0.10, 0.65, -0.60, 0.00,
    0.05, 0.45, -0.35, 0.70, -0.60, 0.20, -0.15, 1.05, -0.90, 0.35, -0.45, 0.60, 0.10, -0.75, 1.15,
    0.20, -0.40, 0.55, -0.15, 0.85, -0.70, 0.05, 0.40, -0.95, 1.20, -0.25, 0.30, -0.55, 0.70, 0.10,
    -0.05, 0.45, -0.50, 0.25, -0.80, 0.65, -0.20, 1.10, -0.65, 0.15, -0.98, 0.50, -0.35, 0.90, 0.00,
    0.30, -0.30, 0.60, -0.70, 0.10, -0.45, 0.85, -0.90, 0.40, -0.15, 1.05, -0.60, 0.20, -0.95, 0.55,
    -0.20, 0.40, -0.60, 0.15, 0.75, -0.40, 0.95, -0.80, 0.25, -0.10, 1.25, -0.55, 0.50, 0.05, -0.35,
    # second pass over the cloud
    1.05, 1.45, 0.65, 1.80, 1.20, 0.40, 1.60, 0.90, 2.00, 1.35, 0.75, 1.55, 1.00, 1.75, 0.25,
    0.95, 1.60, 1.25, 0.45, 1.85, 1.10, 0.70, 1.50, 2.20, 0.85, 1.30, 1.70, 0.55, 1.15, 1.95,
    1.40, 0.60, 1.95, 1.05, 0.35, 1.70, 1.25, 0.85, 2.10, 0.50, 1.50, 1.15, 1.85, 0.95, 1.35,
    1.10, 1.75, 0.70, 1.45, 2.10, 0.95, 1.30, 0.35, 1.65, 1.00, 2.30, 0.55, 1.50, 0.85, 1.20,
    1.05, 1.55, 0.60, 1.85, 1.25, 0.40, 2.05, 0.95, 1.40, 0.15, 1.70, 1.10, 0.80, 1.30, 0.50,
    1.35, 0.85, 1.75, 0.50, 1.15, 1.95, 0.70, 1.50, 0.20, 1.05, 1.65, 0.60, 1.25, 0.95, 1.45,
    1.10, 0.60, 1.65, 1.35, 0.25, 1.85, 0.80, 1.50, 1.00, 0.45, 1.25, 1.90, 0.70, 1.15, 0.35,
    0.85, 1.35, 0.40, 1.80, 1.05, 0.65, 1.50, 0.15, 1.25, 0.90, 1.65, 0.55, 1.00, 1.40, 0.30,
    1.15, 0.70, 1.50, 0.35, 1.25, 0.85, 1.80, 0.50, 1.05, -0.10, 1.40, 0.60, 1.65, 0.95, 0.20,
    0.80, 1.35, 0.45, 1.15, 0.05, 1.55, 0.70, 1.25, 0.35, 1.75, 0.90, 0.15, 1.45, 0.55, 1.10,
    0.95, 0.30, 1.60, 0.70, 1.20, 0.05, 1.45, 0.85, 1.05, 0.50, 1.70, 0.25, 1.30, 0.60, 1.00,
    0.80, 1.45, 0.25, 1.05, 0.60, 1.70, 0.40, 0.95, 1.25, -0.15, 0.70, 1.55, 0.45, 1.15, 0.30,
    0.60, 1.10, -0.20, 0.85, 1.40, 0.35, 0.75, 1.20, 0.05, 1.55, 0.50, 0.95, -0.35, 1.30, 0.20,
    1.05, 0.55, 0.25, 1.35, 0.80, -0.10, 1.10, 0.40, 0.95, -0.45, 0.65, 1.25, 0.10, 0.85, 0.50,
    0.85, 0.35, 1.30, 0.55, -0.30, 0.95, 0.20, 1.15, 0.70, -0.15, 1.45, 0.45, 0.90, 0.05, 0.65,
    0.60, 1.10, 0.20, 0.80, -0.45, 1.30, 0.45, 0.05, 0.90, 0.35, -0.10, 1.20, 0.70, 0.25, 1.55,
    0.75, 0.30, 1.15, -0.25, 0.55, 0.90, 0.10, 1.30, 0.45, -0.55, 0.85, 0.20, 1.05, 0.65, -0.05,
    0.50, 0.95, -0.10, 0.65, 1.20, 0.15, -0.45, 0.80, 0.35, 1.05, -0.25, 0.60, 0.10, 1.35, 0.40,
    0.55, 0.10, 0.85, -0.35, 1.10, 0.40, -0.65, 0.70, 0.20, 1.30, 0.00, 0.60, -0.20, 0.95, 0.30,
    0.35, 0.85, -0.15, 0.50, 1.10, 0.10, -0.50, 0.75, 0.25, -0.25, 1.00, 0.45, -0.05, 0.65, 1.45,
    0.15, 0.65, -0.35, 0.35, 0.90, -0.05, 0.55, -0.60, 0.25, 1.05, -0.20, 0.75, 0.10, -0.50, 0.45,
    0.50, -0.05, 0.70, 0.30, -0.45, 0.95, 0.10, -0.20, 0.60, -0.65, 0.40, 1.30, 0.00, 0.85, -0.30,
    0.15, 0.60, -0.35, 0.45, 0.90, -0.05, 0.30, -0.55, 0.70, 0.05, 1.10, -0.20, 0.50, -0.70, 0.25,
    0.40, -0.10, 0.65, -0.50, 0.20, 1.00, -0.25, 0.50, -0.85, 0.10, 0.80, -0.40, 0.30, -0.05, 0.60,
    0.10, 0.50, -0.30, 0.75, -0.05, 0.35, -0.65, 0.60, 0.15, -0.20, 1.10, -0.45, 0.45, -0.95, 0.25,
    0.30, -0.20, 0.55, -0.50, 0.15, 0.80, -0.05, 0.40, -0.70, 0.25, -0.30, 0.95, -0.85, 0.50, 0.00,
    -0.10, 0.30, -0.55, 0.65, 0.05, -0.30, 0.95, -0.80, 0.20, 0.50, -0.45, 0.10, -0.65, 0.40, -0.20,
    0.20, -0.30, 0.70, -0.10, 0.35, -0.60, 0.05, -0.85, 0.55, -0.40, 0.85, 0.10, -0.25, 0.40, -0.75,
    0.05, -0.45, 0.35, -0.20, 0.70, -0.75, 0.15, -0.55, 0.50, -0.05, -0.85, 0.25, 0.90, -0.35, 0.45,
    0.15, -0.30, 0.60, -0.75, 0.30, -0.05, 0.85, -0.50, 0.05, -0.90, 0.45, -0.20, 0.70, -0.65, 0.20,
]

# HD 72905 label leader line: label anchor -> observed point
hd_t = [2.96e8, 4e8]
hd24_r = [1.95, 0.07]
hd70_r = [117, 1.4]
hd_label = "HD 72905"

# axis tick values / labels
x_ticks = [1e7, 1e8, 1e9, 1e10]
x_ticktext = ["10<sup>7</sup>", "10<sup>8</sup>", "10<sup>9</sup>", "10<sup>10</sup>"]
y24_ticks = [1e-2, 1e-1, 1e0, 1e1]
y24_ticktext = ["10<sup>-2</sup>", "10<sup>-1</sup>", "10<sup>0</sup>", "10<sup>1</sup>"]
y70_ticks = [1e-1, 1e0, 1e1, 1e2, 1e3]
y70_ticktext = ["10<sup>-1</sup>", "10<sup>0</sup>", "10<sup>1</sup>", "10<sup>2</sup>", "10<sup>3</sup>"]
x_minor = [m * 10 ** d for d in (7, 8, 9) for m in range(2, 10)]
y24_minor = [m * 10 ** d for d in (-3, -2, -1, 0, 1) for m in (2, 5, 8)]
y70_minor = [m * 10 ** d for d in (-1, 0, 1, 2) for m in range(2, 10)]

W, H = 2092, 752
SANS = "Liberation Sans, Arial, Helvetica, sans-serif"
SERIF = "Liberation Serif, Times New Roman, serif"


def px_x(p):
    return p / W


def px_y(p):
    return (H - p) / H


fig = go.Figure()

syn24_t = [10 ** v for v in syn24_logt]
syn24_r = [10 ** v for v in syn24_logr]
syn70_t = [10 ** v for v in syn70_logt]
syn70_r = [10 ** v for v in syn70_logr]

panels = [
    ("x", "y", syn24_t, syn24_r, obs24_t, obs24_r, hd24_r),
    ("x2", "y2", syn70_t, syn70_r, obs70_t, obs70_r, hd70_r),
]
for xa, ya, st, sr, ot, orr, hr in panels:
    fig.add_trace(go.Scatter(x=st, y=sr, mode="markers", xaxis=xa, yaxis=ya, name="synthetic",
                             marker=dict(size=4.5, color="black", line=dict(width=0)), showlegend=False))
    fig.add_trace(go.Scatter(x=hd_t, y=hr, mode="lines", xaxis=xa, yaxis=ya,
                             line=dict(color="black", width=1.6), showlegend=False))
    fig.add_trace(go.Scatter(x=ot, y=orr, mode="markers", xaxis=xa, yaxis=ya, name="observed",
                             marker=dict(size=15, color="black", line=dict(width=0)),
                             cliponaxis=False, showlegend=False))

x_dom_l = [px_x(151), px_x(993)]
x_dom_r = [px_x(1196), px_x(2038)]
y_dom = [px_y(647), px_y(45.5)]

axis_common = dict(
    type="log", showgrid=False, zeroline=False, showline=True, linecolor="black", linewidth=3,
    mirror="allticks", ticks="inside", ticklen=20, tickwidth=3, tickcolor="black", automargin=False,
    tickfont=dict(family=SANS, size=34, color="black"),
)
xcommon = dict(axis_common, range=[7, 10], tickmode="array", tickvals=x_ticks, ticktext=x_ticktext,
               ticklabelstandoff=4,
               minor=dict(tickmode="array", tickvals=x_minor, ticks="inside", ticklen=9, tickwidth=3,
                          tickcolor="black", showgrid=False))
fig.update_layout(
    xaxis=dict(xcommon, domain=x_dom_l, anchor="y"),
    xaxis2=dict(xcommon, domain=x_dom_r, anchor="y2"),
    yaxis=dict(axis_common, domain=y_dom, anchor="x", range=[math.log10(0.002), math.log10(20)],
               tickmode="array", tickvals=y24_ticks, ticktext=y24_ticktext, ticklabelstandoff=18,
               minor=dict(tickmode="array", tickvals=y24_minor, ticks="inside", ticklen=10, tickwidth=3,
                          tickcolor="black", showgrid=False)),
    yaxis2=dict(axis_common, domain=y_dom, anchor="x2", range=[-1, 3],
                tickmode="array", tickvals=y70_ticks, ticktext=y70_ticktext, ticklabelstandoff=18,
                minor=dict(tickmode="array", tickvals=y70_minor, ticks="inside", ticklen=10, tickwidth=3,
                           tickcolor="black", showgrid=False)),
)

# background: slate frame with white sheet
fig.add_shape(type="rect", xref="paper", yref="paper", x0=px_x(6), x1=1, y0=px_y(750), y1=px_y(4),
              fillcolor="white", line=dict(width=0), layer="below")
fig.add_shape(type="rect", xref="paper", yref="paper", x0=px_x(1050), x1=1, y0=0, y1=px_y(750),
              fillcolor="white", line=dict(width=0), layer="below")

annotations = []
# axis titles
for cx in (572, 1617):
    annotations.append(dict(text="Time [yr]", xref="paper", yref="paper", x=px_x(cx), y=px_y(711),
                            xanchor="center", yanchor="top", showarrow=False,
                            font=dict(family=SANS, size=34, color="black")))
annotations.append(dict(text="Excess ratio (F<sub>d</sub>/F<sub>*</sub>)<sub>24</sub>", xref="paper", yref="paper",
                        x=px_x(34), y=px_y(346), xanchor="center", yanchor="middle", textangle=-90,
                        showarrow=False, font=dict(family=SANS, size=34, color="black")))
annotations.append(dict(text="Excess ratio (F<sub>d</sub>/F<sub>*</sub>)<sub>70</sub>", xref="paper", yref="paper",
                        x=px_x(1078), y=px_y(346), xanchor="center", yanchor="middle", textangle=-90,
                        showarrow=False, font=dict(family=SANS, size=34, color="black")))
# HD 72905 labels
for xa, ya, hr in (("x", "y", hd24_r), ("x2", "y2", hd70_r)):
    annotations.append(dict(text=hd_label, xref=xa, yref=ya, x=math.log10(hd_t[0]), y=math.log10(hr[0]),
                            yshift=27, showarrow=False, xanchor="center", yanchor="middle",
                            font=dict(family=SERIF, size=26, color="black")))
# legend texts
for right_edge, y_obs, y_syn in ((898, 89, 129), (1941, 89, 130)):
    annotations.append(dict(text="observed", xref="paper", yref="paper", x=px_x(right_edge), y=px_y(y_obs),
                            xanchor="right", yanchor="middle", showarrow=False,
                            font=dict(family=SANS, size=34, color="black")))
    annotations.append(dict(text="synthetic", xref="paper", yref="paper", x=px_x(right_edge), y=px_y(y_syn),
                            xanchor="right", yanchor="middle", showarrow=False,
                            font=dict(family=SANS, size=34, color="black")))
fig.update_layout(annotations=annotations)

# legend sample glyphs
for cx, cy, r in ((935, 88, 7.5), (936, 128.5, 2.2), (1978, 88, 7.5), (1979, 129.5, 2.2)):
    fig.add_shape(type="circle", xref="paper", yref="paper", xsizemode="pixel", ysizemode="pixel",
                  xanchor=px_x(cx), yanchor=px_y(cy), x0=-r, x1=r, y0=-r, y1=r,
                  fillcolor="black", line=dict(width=0))

fig.update_layout(width=W, height=H, margin=dict(l=0, r=0, t=0, b=0, pad=0, autoexpand=False), autosize=False,
                  paper_bgcolor="#4d5e7e", plot_bgcolor="white", showlegend=False)

fig.write_html("out.html", config={"displayModeBar": False},
               post_script="document.body.style.margin='0';")
